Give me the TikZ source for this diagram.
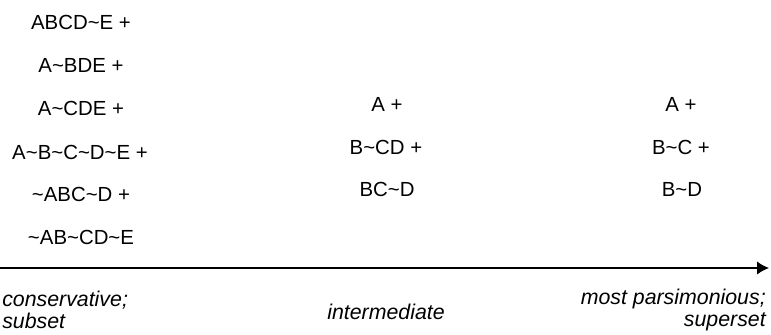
\documentclass[tikz,border=0pt]{standalone}
\usepackage{fontspec}
\setmainfont{Liberation Sans}
\usepackage{tikz}
\usetikzlibrary{arrows.meta, positioning}
\tikzset{
    termNode/.style={
        inner sep=0pt,
        anchor=center,
        font=\fontsize{15.3}{18}\selectfont
    },
    scaleLabel/.style={
        inner sep=0pt,
        font=\fontsize{16}{17}\selectfont\itshape
    }
}

\begin{document}
\begin{tikzpicture}[x=0.75pt, y=-0.75pt, >={Latex[length=9pt, width=10pt]}]
            % Frame
            \useasboundingbox (0,0) rectangle (771,335);

            % Conservative solution terms
            \node[termNode] (C1) at (81,22) {ABCD\char`~E +};
            \node[termNode] (C2) at (81,65) {A\char`~BDE +};
            \node[termNode] (C3) at (81,108) {A\char`~CDE +};
            \node[termNode] (C4) at (80,152) {A\char`~B\char`~C\char`~D\char`~E +};
            \node[termNode] (C5) at (81,194) {\char`~ABC\char`~D +};
            \node[termNode] (C6) at (81,237) {\char`~AB\char`~CD\char`~E};

            % Intermediate solution terms
            \node[termNode] (I1) at (387,104) {A +};
            \node[termNode] (I2) at (386,147) {B\char`~CD +};
            \node[termNode] (I3) at (387,189) {BC\char`~D};

            % Most parsimonious solution terms
            \node[termNode] (P1) at (681,104) {A +};
            \node[termNode] (P2) at (681,147) {B\char`~C +};
            \node[termNode] (P3) at (682,189) {B\char`~D};

            % Scale arrow
            \coordinate (ScaleL) at (0,268);
            \coordinate (ScaleR) at (769,268);
            \draw[->, line width=1.1pt] (ScaleL) -- (ScaleR);

            % Scale labels
            \node[scaleLabel, anchor=west, align=left] (LblCons) at (2,310) {conservative;\\subset};
            \node[scaleLabel] (LblInter) at (386,312) {intermediate};
            \node[scaleLabel, anchor=east, align=right] (LblPars) at (766,310) {most parsimonious;\\superset};
        \end{tikzpicture}
\end{document}
